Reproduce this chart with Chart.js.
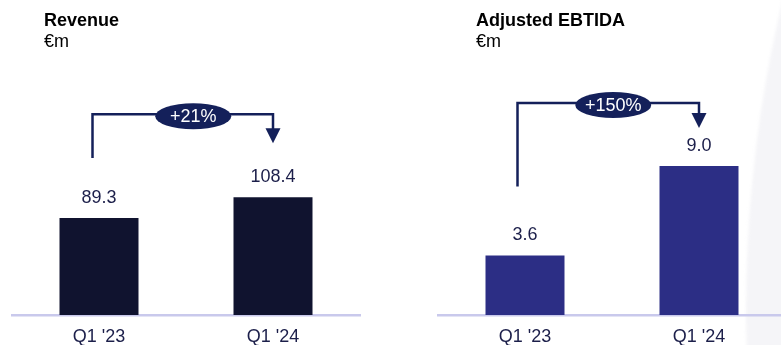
<!DOCTYPE html>
<html>
<head>
<meta charset="utf-8">
<script src="https://cdn.jsdelivr.net/npm/chart.js@4"></script>
<style>
  html, body { margin: 0; padding: 0; background: #fff; }
  body { width: 781px; height: 345px; overflow: hidden; position: relative; font-family: "Liberation Sans", Arial, sans-serif; }
  .swoosh { position: absolute; left: 746px; top: -1020px; width: 2660px; height: 2660px; border-radius: 50%; background: #f5f5f8; filter: blur(1.5px); }
  canvas { position: absolute; top: 0; }
  .head { position: absolute; font-size: 18px; line-height: 18px; color: #000; white-space: nowrap; }
  .head b { display: block; font-weight: bold; }
  .head span { display: block; margin-top: 3px; }
</style>
</head>
<body>
<div class="swoosh"></div>
<canvas id="revenueChart" width="390" height="345" style="left:0"></canvas>
<canvas id="ebitdaChart" width="400" height="345" style="left:390px"></canvas>
<div class="head" style="left:44px; top:11px"><b>Revenue</b><span>€m</span></div>
<div class="head" style="left:476px; top:11px"><b>Adjusted EBTIDA</b><span>€m</span></div>

<script>
const quarters = ["Q1 '23", "Q1 '24"];
const revenue = [89.3, 108.4];
const ebitda = [3.6, 9.0];
const revenueGrowth = '+21%';
const ebitdaGrowth = '+150%';

const FONT = '"Liberation Sans", Arial, sans-serif';
const NAVY = '#14205a';
const TEXT = '#1c1f4a';

// value above each bar
const barLabels = {
  id: 'barLabels',
  afterDatasetsDraw(chart) {
    const ctx = chart.ctx;
    const values = chart.data.datasets[0].data;
    ctx.save();
    ctx.font = '18px ' + FONT;
    ctx.fillStyle = TEXT;
    ctx.textAlign = 'center';
    ctx.textBaseline = 'alphabetic';
    chart.getDatasetMeta(0).data.forEach((bar, i) => {
      ctx.fillText(values[i].toFixed(1), bar.x, bar.y - 15);
    });
    ctx.restore();
  }
};

// bracket from first bar to second with the growth badge
const growthArrow = {
  id: 'growthArrow',
  afterDatasetsDraw(chart, args, opts) {
    const [a, b] = chart.getDatasetMeta(0).data;
    const ctx = chart.ctx;
    const x0 = a.x + opts.startDx;
    const x1 = b.x;
    const yTop = b.y - opts.rise;
    const yStart = a.y - opts.startGap;
    const yTip = b.y - opts.tipGap;

    ctx.save();
    ctx.strokeStyle = NAVY;
    ctx.fillStyle = NAVY;
    ctx.lineWidth = 2.5;
    ctx.lineJoin = 'miter';
    ctx.beginPath();
    ctx.moveTo(x0, yStart);
    ctx.lineTo(x0, yTop);
    ctx.lineTo(x1, yTop);
    ctx.lineTo(x1, yTip - 13);
    ctx.stroke();

    ctx.beginPath();
    ctx.moveTo(x1 - 7.5, yTip - 15);
    ctx.lineTo(x1 + 7.5, yTip - 15);
    ctx.lineTo(x1, yTip);
    ctx.closePath();
    ctx.fill();

    const cx = (x0 + x1) / 2 + opts.badgeDx;
    const cy = yTop + 2;
    ctx.beginPath();
    ctx.ellipse(cx, cy, 38, 13, 0, 0, Math.PI * 2);
    ctx.fill();
    ctx.fillStyle = '#fff';
    ctx.font = '18px ' + FONT;
    ctx.textAlign = 'center';
    ctx.textBaseline = 'middle';
    ctx.fillText(opts.text, cx, cy + 1);
    ctx.restore();
  }
};

function makeChart(id, values, color, yMax, padding, arrow) {
  return new Chart(document.getElementById(id), {
    type: 'bar',
    data: {
      labels: quarters,
      datasets: [{
        data: values,
        backgroundColor: color,
        barPercentage: 0.454,
        categoryPercentage: 1
      }]
    },
    options: {
      responsive: false,
      animation: false,
      layout: { padding: padding },
      plugins: {
        legend: { display: false },
        tooltip: { enabled: false },
        growthArrow: arrow
      },
      scales: {
        x: {
          grid: { display: false, drawTicks: false },
          border: { display: true, color: '#c9c9ec', width: 2.5 },
          ticks: { color: TEXT, font: { size: 18, family: FONT }, padding: 11 },
          afterFit(scale) { scale.height = 30; }
        },
        y: { display: false, min: 0, max: yMax }
      }
    },
    plugins: [barLabels, growthArrow]
  });
}

makeChart('revenueChart', revenue, '#10132f', 244,
  { top: 50, left: 12, right: 30, bottom: 0 },
  { text: revenueGrowth, startDx: -6.5, rise: 83, startGap: 60, tipGap: 54, badgeDx: 10.5 });

makeChart('ebitdaChart', ebitda, '#2c2e85', 16,
  { top: 50, left: 48, right: 4, bottom: 0 },
  { text: ebitdaGrowth, startDx: -7.5, rise: 63, startGap: 69, tipGap: 38, badgeDx: 5 });
</script>
</body>
</html>
